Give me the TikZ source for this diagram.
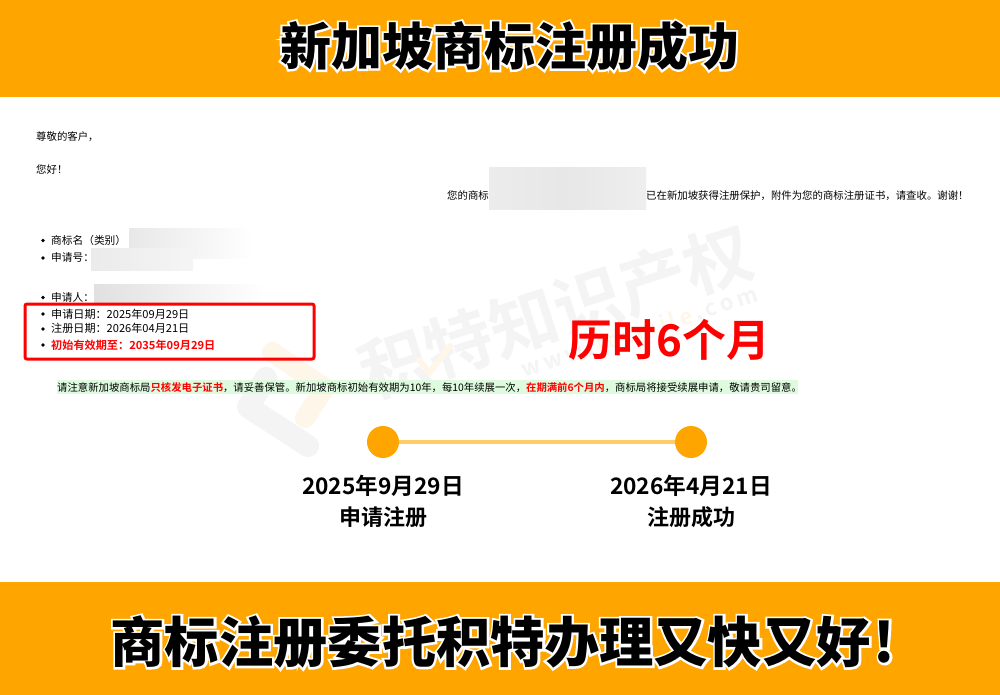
\documentclass[tikz,border=0pt]{standalone}
\usepackage{fontspec}
\setmainfont{Noto Sans CJK SC}[BoldFont={Noto Sans CJK SC Bold}]
\newfontfamily\blackcjk{Noto Sans CJK SC Black}
\newfontfamily\outlinecjk{Noto Sans CJK SC Black}[FakeBold=8]
\newfontfamily\outlinecjkb{Noto Sans CJK SC Black}[FakeBold=8]
\newcommand{\fsz}[1]{\fontsize{#1}{#1}\selectfont}
\definecolor{bandorange}{HTML}{FFA500}
\definecolor{linkorange}{HTML}{FFCC66}
\definecolor{noteGreen}{HTML}{DFFBDF}
\definecolor{wmgrey}{HTML}{F4F4F4}
\definecolor{wmorange}{HTML}{FFF6EA}
\tikzset{
  body/.style={anchor=base west,inner sep=0pt,font=\fsz{10.4}},
  listtext/.style={anchor=base west,inner sep=0pt,font=\fsz{10.7}},
  datetext/.style={anchor=base west,inner sep=0pt,font=\fsz{11.1}},
  bul/.style={circle,fill=black,inner sep=0pt,minimum size=3.8pt},
  dot/.style={circle,fill=bandorange,inner sep=0pt,minimum size=32pt},
  captext/.style={inner sep=0pt,font=\fsz{22}\bfseries},
  capdate/.style={inner sep=0pt,font=\fsz{22.7}\bfseries},
}
\begin{document}
\begin{tikzpicture}[x=1pt,y=-1pt]
\useasboundingbox (0,0) rectangle (1000,695);
\fill[white] (0,0) rectangle (1000,695);
\fill[bandorange] (0,0) rectangle (1000,97);
\fill[bandorange] (0,582) rectangle (1000,695);
% watermark
\node[rotate=18,inner sep=0pt,text=wmgrey,font=\fsz{68}\bfseries] (wm) at (556,312) {积特知识产权};
\draw[wmorange,line width=6pt,line cap=round,line join=round] (419,360) -- (429,373) -- (450,346);
\node[rotate=18,inner sep=0pt,text=wmgrey,font=\fsz{22}\bfseries] (wmu) at (640,333) {w\,w\,w\,.\,\textcolor{wmorange}{j\,o\,t\,m\,i\,l\,e}\,.\,c\,o\,m};
\draw[wmgrey,line width=22pt,line cap=round,line join=round] (266,378) -- (248,407) -- (308,446);
\draw[wmorange,line width=20pt,line cap=round,line join=round] (272,352) -- (325,388) -- (305,418);
% blurred regions
\shade[left color=gray!15,right color=gray!13,middle color=gray!19] (489,168) rectangle (646,209);
\shade[left color=gray!18,right color=white] (129,228) rectangle (254,258);
\shade[left color=gray!16,right color=gray!8] (91,248) rectangle (193,270);
\shade[left color=gray!24,right color=white] (94,284) rectangle (265,303);
% letter
\node[body] (t1) at (36,141) {尊敬的客户，};
\node[body] (t2) at (36,173) {您好！};
\node[body] (t3) at (447,199) {您的商标};
\node[body] (t4) at (646,199) {已在新加坡获得注册保护，附件为您的商标注册证书，请查收。谢谢！};
\node[bul] (b1) at (43,240.5) {};
\node[bul] (b2) at (43,258) {};
\node[bul] (b3) at (43,297.5) {};
\node[bul] (b4) at (43,314) {};
\node[bul] (b5) at (43,329) {};
\node[bul] (b6) at (43,345) {};
\node[listtext] (l1) at (51,244) {商标名（类别）};
\node[listtext] (l2) at (51,261) {申请号：};
\node[listtext] (l3) at (51,301) {申请人：};
\node[datetext] (l4) at (51,318) {申请日期：2025年09月29日};
\node[datetext] (l5) at (51,332) {注册日期：2026年04月21日};
\node[datetext,text=red,font=\fsz{11.15}\bfseries] (l6) at (51,349) {初始有效期至：2035年09月29日};
\draw[red,line width=3pt,rounded corners=2pt] (25,304) rectangle (314,359);
% note
\fill[noteGreen] (57,380) rectangle (798,394);
\node[body,font=\fsz{10.37}] (note) at (57,391) {请注意新加坡商标局\textcolor{red}{\bfseries 只核发电子证书}，请妥善保管。新加坡商标初始有效期为10年，每10年续展一次，\textcolor{red}{\bfseries 在期满前6个月内}，商标局将接受续展申请，敬请贵司留意。};
\node[inner sep=0pt,text=red,font=\fsz{43.8}\bfseries] (dur) at (669.5,340) {历时6个月};
% timeline
\draw[linkorange,line width=4pt] (383,442) -- (691,442);
\node[dot] (d1) at (383,442) {};
\node[dot] (d2) at (691,442) {};
\node[capdate] (c1) at (383,486) {2025年9月29日};
\node[captext] (c2) at (383,517) {申请注册};
\node[capdate] (c3) at (691,486) {2026年4月21日};
\node[captext] (c4) at (691,517) {注册成功};
% titles
\node[inner sep=0pt,text=white,font=\fsz{51}\outlinecjk] (tw) at (509.5,46) {新加坡商标注册成功};
\node[inner sep=0pt,text=black,font=\fsz{51}\blackcjk] (tb) at (509.5,46) {新加坡商标注册成功};
\node[inner sep=0pt,text=white,font=\fsz{54.3}\outlinecjkb] (bw) at (503,642) {商标注册委托积特办理又快又好\kern3pt!};
\node[inner sep=0pt,text=black,font=\fsz{54.3}\blackcjk] (bb) at (503,642) {商标注册委托积特办理又快又好\kern3pt!};
\end{tikzpicture}
\end{document}
